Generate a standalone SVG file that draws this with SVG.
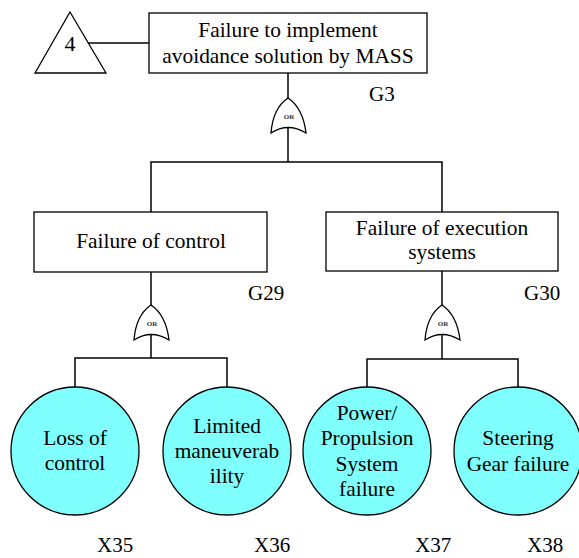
<svg xmlns="http://www.w3.org/2000/svg" width="579" height="558" viewBox="0 0 579 558">
  <style>
    .box { fill: #ffffff; stroke: #000000; stroke-width: 1.3; }
    .evt { fill: #80ffff; stroke: #000000; stroke-width: 1.3; }
    .gate { fill: #ffffff; stroke: #000000; stroke-width: 1.3; }
    .wire { fill: none; stroke: #000000; stroke-width: 1.5; }
    .lbl { font-family: 'Liberation Serif', 'Times New Roman', serif; font-size: 21.4px; text-anchor: middle; }
    .id { font-family: 'Liberation Serif', 'Times New Roman', serif; font-size: 21px; }
    .big { font-family: 'Liberation Serif', 'Times New Roman', serif; font-size: 22px; text-anchor: middle; }
    .or { font-family: 'Liberation Serif', 'Times New Roman', serif; font-size: 7px; font-weight: bold; text-anchor: middle; fill: #333333; }
  </style>
  <defs>
    <!-- OR gate outline, apex at origin -->
    <path id="orGate" d="M-17,35 Q-15,10 0,0 Q15,10 18,35 Q0,24 -17,35 Z"/>
  </defs>

  <g id="connectors">
    <line class="wire" x1="88" y1="43" x2="149" y2="43"/>
    <line class="wire" x1="288" y1="73" x2="288" y2="98"/>
    <polyline class="wire" points="288,127 288,162"/>
    <polyline class="wire" points="151,212 151,162 442,162 442,212"/>
    <line class="wire" x1="151" y1="272" x2="151" y2="305"/>
    <line class="wire" x1="151" y1="334" x2="151" y2="358"/>
    <polyline class="wire" points="75,387 75,358 227,358 227,387"/>
    <line class="wire" x1="442" y1="271" x2="442" y2="305"/>
    <line class="wire" x1="442" y1="334" x2="442" y2="359"/>
    <polyline class="wire" points="367,387 367,359 518,359 518,387"/>
  </g>

  <g id="transfer4">
    <polygon class="box" points="70,12 106,73 35,73"/>
    <text class="big" x="70" y="51">4</text>
  </g>

  <g id="G3">
    <rect class="box" x="149" y="13" width="278" height="60"/>
    <text class="lbl" x="288" y="37">Failure to implement</text>
    <text class="lbl" x="288" y="63">avoidance solution by MASS</text>
    <use href="#orGate" class="gate" x="288" y="98"/>
    <text class="or" x="289" y="119">OR</text>
    <text class="id" x="369" y="101">G3</text>
  </g>

  <g id="G29">
    <rect class="box" x="34" y="212" width="233" height="60"/>
    <text class="lbl" x="151" y="248">Failure of control</text>
    <use href="#orGate" class="gate" x="151" y="305"/>
    <text class="or" x="152" y="326">OR</text>
    <text class="id" x="248" y="300">G29</text>
  </g>

  <g id="G30">
    <rect class="box" x="326" y="212" width="232" height="59"/>
    <text class="lbl" x="442" y="235">Failure of execution</text>
    <text class="lbl" x="442" y="259">systems</text>
    <use href="#orGate" class="gate" x="442" y="305"/>
    <text class="or" x="443" y="326">OR</text>
    <text class="id" x="524" y="300">G30</text>
  </g>

  <g id="X35">
    <circle class="evt" cx="75" cy="451" r="64"/>
    <text class="lbl" x="75" y="445">Loss of</text>
    <text class="lbl" x="75" y="470">control</text>
    <text class="id" x="97" y="552">X35</text>
  </g>

  <g id="X36">
    <circle class="evt" cx="227" cy="451" r="64"/>
    <text class="lbl" x="227" y="433">Limited</text>
    <text class="lbl" x="227" y="458">maneuverab</text>
    <text class="lbl" x="227" y="483">ility</text>
    <text class="id" x="254" y="552">X36</text>
  </g>

  <g id="X37">
    <circle class="evt" cx="367" cy="451" r="64"/>
    <text class="lbl" x="367" y="420">Power/</text>
    <text class="lbl" x="367" y="445">Propulsion</text>
    <text class="lbl" x="367" y="471">System</text>
    <text class="lbl" x="367" y="496">failure</text>
    <text class="id" x="415" y="552">X37</text>
  </g>

  <g id="X38">
    <circle class="evt" cx="518" cy="451" r="64"/>
    <text class="lbl" x="518" y="445">Steering</text>
    <text class="lbl" x="518" y="471">Gear failure</text>
    <text class="id" x="527" y="552">X38</text>
  </g>
</svg>
